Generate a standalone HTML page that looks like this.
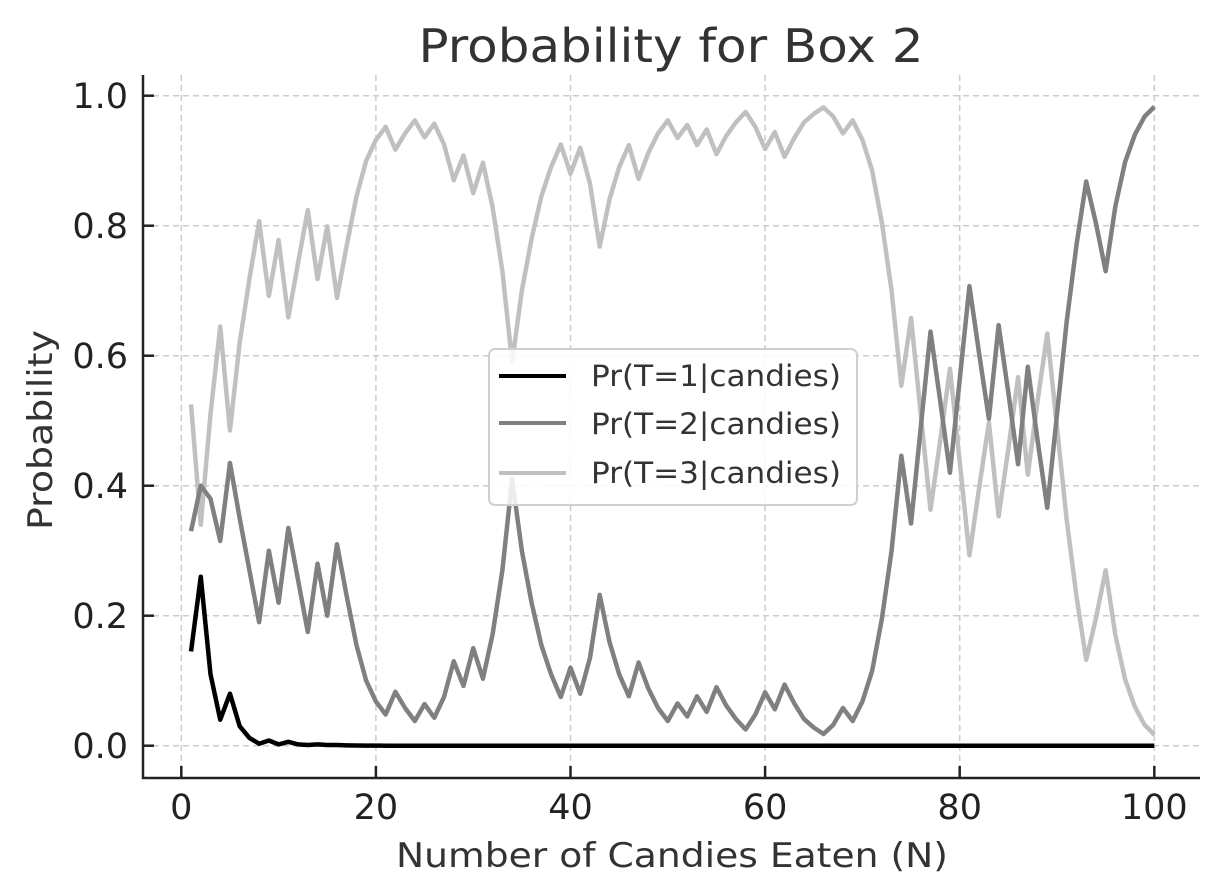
<!DOCTYPE html>
<html><head><meta charset="utf-8"><style>
html,body{margin:0;padding:0;background:#fff;}
svg{display:block;font-family:"DejaVu Sans","Liberation Sans",sans-serif;}
</style></head><body>
<svg id="chart" width="1224" height="894" viewBox="0 0 1224 894" xmlns="http://www.w3.org/2000/svg">
<rect x="0" y="0" width="1224" height="894" fill="#fff"/>
<text x="671" y="62" font-size="46" fill="#333" text-anchor="middle" textLength="505" lengthAdjust="spacingAndGlyphs">Probability for Box 2</text>
<g id="grid"></g>
<g id="series"></g>
<g id="axes"></g>
<text x="672" y="867" font-size="34" fill="#333" text-anchor="middle" textLength="552" lengthAdjust="spacingAndGlyphs">Number of Candies Eaten (N)</text>
<text x="0" y="0" font-size="34" fill="#333" text-anchor="middle" transform="translate(52,430) rotate(-90)" textLength="200" lengthAdjust="spacingAndGlyphs">Probability</text>
<g>
<rect x="489" y="349" width="368" height="156" rx="6" fill="#fff" fill-opacity="0.85" stroke="#d0d0d0" stroke-width="2"/>
<line x1="499" y1="376" x2="566" y2="376" stroke="#000" stroke-width="4"/>
<text x="591" y="386" font-size="29" fill="#333" textLength="250" lengthAdjust="spacingAndGlyphs">Pr(T=1|candies)</text>
<line x1="499" y1="423" x2="566" y2="423" stroke="#808080" stroke-width="4"/>
<text x="591" y="434" font-size="29" fill="#333" textLength="250" lengthAdjust="spacingAndGlyphs">Pr(T=2|candies)</text>
<line x1="499" y1="473" x2="566" y2="473" stroke="#c0c0c0" stroke-width="4"/>
<text x="591" y="483" font-size="29" fill="#333" textLength="250" lengthAdjust="spacingAndGlyphs">Pr(T=3|candies)</text>
</g>
</svg>
<script>
const t1Values = [0.145,0.26,0.11,0.04,0.08,0.03,0.012,0.003,0.008,0.002,0.006,0.002,0.001,0.002,0.001,0.001,0.0005,0.0003,0.0002,0.0001,
0,0,0,0,0,0,0,0,0,0,0,0,0,0,0,0,0,0,0,0,0,0,0,0,0,0,0,0,0,0,0,0,0,0,0,0,0,0,0,0,0,0,0,0,0,0,0,0,0,0,0,0,0,0,0,0,0,0,0,0,0,0,0,0,0,0,0,0,0,0,0,0,0,0,0,0,0,0,0,0];
const t2Values = [0.33,0.40,0.38,0.315,0.435,0.35,0.27,0.19,0.30,0.22,0.335,0.255,0.175,0.28,0.20,0.31,0.23,0.155,0.10,0.068,
0.048,0.083,0.058,0.038,0.064,0.043,0.075,0.13,0.092,0.15,0.103,0.172,0.27,0.41,0.30,0.22,0.155,0.11,0.075,0.12,
0.08,0.135,0.232,0.16,0.11,0.076,0.128,0.088,0.058,0.038,0.065,0.045,0.076,0.052,0.09,0.062,0.041,0.025,0.048,0.082,
0.056,0.094,0.065,0.041,0.028,0.018,0.032,0.058,0.038,0.068,0.115,0.195,0.30,0.446,0.342,0.49,0.637,0.53,0.42,0.563,
0.707,0.603,0.503,0.647,0.543,0.433,0.583,0.47,0.366,0.51,0.653,0.77,0.868,0.804,0.73,0.83,0.898,0.94,0.968,0.983];
const t3Values = t2Values.map((v,i)=>Math.max(0,1-v-t1Values[i]));
const xTickLabels = ["0","20","40","60","80","100"];
const xTickValues = [0,20,40,60,80,100];
const yTickLabels = ["0.0","0.2","0.4","0.6","0.8","1.0"];
const yTickValues = [0,0.2,0.4,0.6,0.8,1.0];

const NS="http://www.w3.org/2000/svg";
const L=143,R=1200,T=75,B=778;
function xs(n){return 181.3+n*9.73;}
function ys(v){return 745.7-v*650;}
function mk(tag,attrs,parent){const e=document.createElementNS(NS,tag);for(const k in attrs)e.setAttribute(k,attrs[k]);parent.appendChild(e);return e;}
const grid=document.getElementById('grid'),axes=document.getElementById('axes'),series=document.getElementById('series');
xTickValues.forEach((v,i)=>{
  const x=xs(v);
  const g=mk('line',{x1:x,y1:T,x2:x,y2:B,stroke:'#cccccc','stroke-width':1.5,'stroke-dasharray':'6,4'},grid);
  
  
  const t=mk('line',{x1:x,y1:B,x2:x,y2:B-12,stroke:'#222','stroke-width':2.5},axes);
  
  
  const lb=mk('text',{x:x,y:819,'font-size':35,fill:'#222','text-anchor':'middle'},axes);
  lb.textContent=xTickLabels[i];
  
  
});
yTickValues.forEach((v,i)=>{
  const y=ys(v);
  const g=mk('line',{x1:L,y1:y,x2:R,y2:y,stroke:'#cccccc','stroke-width':1.5,'stroke-dasharray':'6,4'},grid);
  
  
  const t=mk('line',{x1:L,y1:y,x2:L+11,y2:y,stroke:'#222','stroke-width':2.5},axes);
  
  
  const lb=mk('text',{x:128,y:y+12.5,'font-size':35,fill:'#222','text-anchor':'end'},axes);
  lb.textContent=yTickLabels[i];
  
  
});
const sp1=mk('line',{x1:L,y1:T,x2:L,y2:B+1,stroke:'#222','stroke-width':2.5},axes);


const sp2=mk('line',{x1:L-1,y1:B,x2:R,y2:B,stroke:'#222','stroke-width':2.5},axes);


function drawLine(vals,color,name){
  const d=vals.map((v,i)=>(i?'L':'M')+xs(i+1).toFixed(2)+','+ys(v).toFixed(2)).join(' ');
  const p=mk('path',{d:d,fill:'none',stroke:color,'stroke-width':4.5,'stroke-linejoin':'round','stroke-linecap':'butt'},series);
  
  
}
drawLine(t3Values,'#c0c0c0','line-t3');
drawLine(t2Values,'#808080','line-t2');
drawLine(t1Values,'#000000','line-t1');
</script>
</body></html>
